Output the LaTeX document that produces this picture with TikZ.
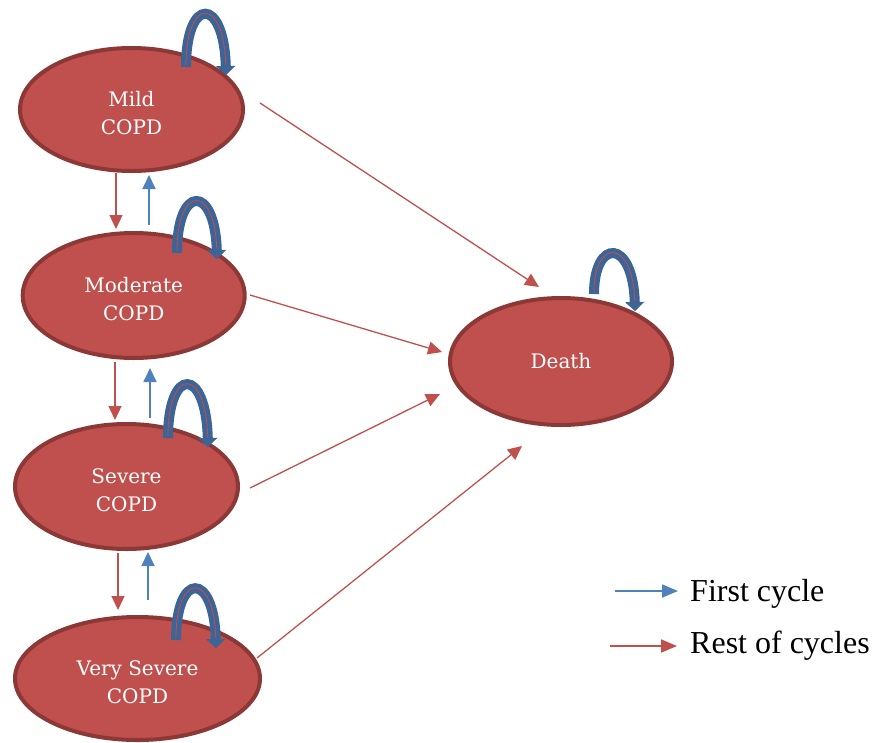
\documentclass[tikz,border=0pt]{standalone}
\usepackage{fontspec}
\setmainfont{DejaVu Serif}
\newfontfamily\legendfont{Liberation Serif}
\usetikzlibrary{arrows.meta,calc,shapes.geometric}
\definecolor{nodefill}{HTML}{C0504D}
\definecolor{nodeline}{HTML}{8C3836}
\definecolor{redarr}{HTML}{C0504D}
\definecolor{bluearr}{HTML}{4F81BD}
\definecolor{loopblue}{HTML}{3C6496}
\newcommand{\lowline}[1]{\raisebox{-4pt}[\height][\depth]{#1}}
\begin{document}
\begin{tikzpicture}[x=1pt,y=-1pt,
  state/.style={ellipse, draw=nodeline, fill=nodefill, line width=4pt, inner sep=0pt,
    align=center, text=white, font=\fontsize{20}{28}\selectfont},
  redarrow/.style={draw=redarr, line width=1.3pt, -{Triangle[length=14pt,width=13pt]}},
  bluearrow/.style={draw=bluearr, line width=1.8pt, -{Triangle[length=14pt,width=13pt]}},
  legarrow/.style={line width=1.8pt, -{Triangle[length=16pt,width=13pt]}},
  selfloop/.style={draw=loopblue, line width=10pt, -{Triangle[length=9pt,width=19pt]},
    postaction={draw=redarr, line width=0.8pt, shorten >=10pt, shorten <=2pt, -}},
  legendtext/.style={anchor=base west, inner sep=0pt, font=\legendfont\fontsize{32}{36}\selectfont}]
\useasboundingbox (0,0) rectangle (872,742);

% states
\node[state, minimum width=223pt, minimum height=123pt] (mild) at (131.5,109.5) {\lowline{Mild}\\\lowline{COPD}};
\node[state, minimum width=222pt, minimum height=125pt] (moderate) at (133.7,295.5) {\lowline{Moderate}\\\lowline{COPD}};
\node[state, minimum width=223pt, minimum height=125pt] (severe) at (126.5,486.5) {\lowline{Severe}\\\lowline{COPD}};
\node[state, minimum width=245pt, minimum height=123pt] (vsevere) at (137.5,678.5) {\lowline{Very Severe}\\\lowline{COPD}};
\node[state, minimum width=222pt, minimum height=127pt] (death) at (561,361.5) {Death};

% self loops
\draw[selfloop] ($(mild)+(54.5,-42.5)$) .. controls +(0,-71) and +(-2,-79) .. ($(mild)+(94.5,-34.5)$);
\draw[selfloop] ($(moderate)+(43.3,-42.5)$) .. controls +(0,-69) and +(-2,-75) .. ($(moderate)+(83.3,-36.5)$);
\draw[selfloop] ($(severe)+(41.5,-48.5)$) .. controls +(0,-72) and +(-2,-81) .. ($(severe)+(81.5,-39.5)$);
\draw[selfloop] ($(vsevere)+(38.5,-38.5)$) .. controls +(0,-69) and +(-2,-77) .. ($(vsevere)+(78.5,-30.5)$);
\draw[selfloop] ($(death)+(33,-67.5)$) .. controls +(0,-56) and +(-2,-73) .. ($(death)+(74,-50.5)$);

% progression (rest of cycles)
\draw[redarrow] ($(mild.south)+(-15.5,0)$) -- ($(moderate.north)+(-17.7,-2)$);
\draw[redarrow] ($(moderate.south)+(-18.7,2)$) -- ($(severe.north)+(-11.5,-2)$);
\draw[redarrow] ($(severe.south)+(-8.5,2)$) -- ($(vsevere.north)+(-19.5,-5)$);

% regression (first cycle)
\draw[bluearrow] ($(moderate.north)+(15.3,-6)$) -- ($(mild.south)+(17.5,2)$);
\draw[bluearrow] ($(severe.north)+(23.5,-4)$) -- ($(moderate.south)+(16.3,8)$);
\draw[bluearrow] ($(vsevere.north)+(10.5,-15)$) -- ($(severe.south)+(21.5,1)$);

% to death
\draw[redarrow] ($(mild)+(128.5,-6.5)$) -- ($(death)+(-22,-74.5)$);
\draw[redarrow] ($(moderate)+(116.3,-0.5)$) -- ($(death)+(-119,-9.5)$);
\draw[redarrow] ($(severe)+(123.5,1.5)$) -- ($(death)+(-121,32.5)$);
\draw[redarrow] ($(vsevere)+(119.5,-20.5)$) -- ($(death)+(-39,84.5)$);

% legend
\node[legendtext] (first) at (690,601) {First cycle};
\node[legendtext] (rest) at (690,653) {Rest of cycles};
\coordinate (fc) at (615,591);
\coordinate (rc) at (610,646);
\draw[legarrow, draw=bluearr] (fc) -- ($(first.base west)+(-12,-10)$);
\draw[legarrow, draw=redarr] (rc) -- ($(rest.base west)+(-13,-7)$);
\end{tikzpicture}
\end{document}
